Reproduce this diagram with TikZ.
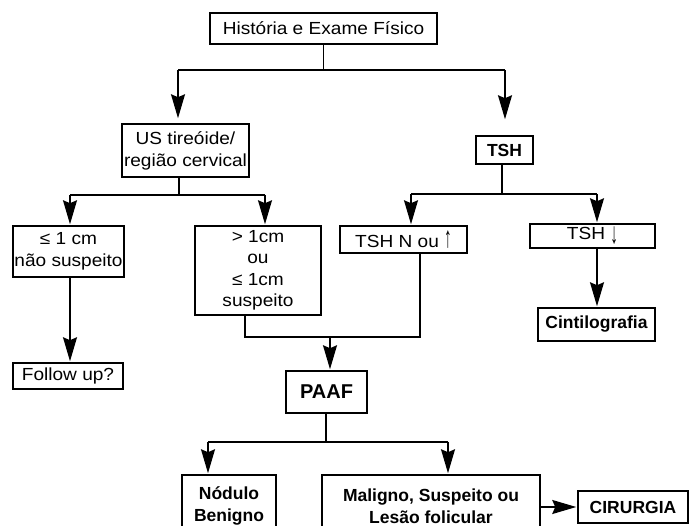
\documentclass[tikz,border=0pt]{standalone}
\usepackage{fontspec}
\setmainfont{Liberation Sans}
\newfontfamily\regfam{Liberation Sans}[FakeStretch=1.09]
\usetikzlibrary{arrows.meta}
\newcommand{\regf}{\regfam\fontsize{17.5}{22}\selectfont}
\newcommand{\boldf}{\fontsize{17.5}{22}\selectfont\bfseries}
\tikzset{
  box/.style={draw, line width=1.5pt, inner sep=0pt, align=center, font=\regf},
  bbox/.style={draw, line width=1.5pt, inner sep=0pt, align=center, font=\boldf},
  ln/.style={line width=1.5pt},
  arr/.style={line width=1.5pt, -{Stealth[length=24pt,width=14pt,inset=3pt]}, shorten >=1pt}
}
\begin{document}
\begin{tikzpicture}[x=1pt,y=-1pt]
\path[use as bounding box, clip] (0,0) rectangle (689,526);
\fill[white] (0,0) rectangle (689,526);
% nodes
\node[box, minimum width=227pt, minimum height=31pt] (hist) at (323.5,28.5) {História e Exame Físico};
\node[box, minimum width=127pt, minimum height=53pt] (us) at (185.5,150.5) {US tireóide/\\região cervical};
\node[bbox, minimum width=57pt, minimum height=28pt] (tsh) at (504.5,150) {TSH};
\node[box, minimum width=111pt, minimum height=51pt] (le1) at (68.5,251.5) {≤ 1 cm\\não suspeito};
\node[box, minimum width=126pt, minimum height=89pt, font=\regfam\fontsize{17.5}{21.5}\selectfont] (gt1) at (258,270.5) {> 1cm\\ou\\≤ 1cm\\suspeito};
\node[box, minimum width=127pt, minimum height=27pt] (tshn) at (403.5,239.5) {TSH N ou \scalebox{0.8}[1.7]{↑}};
\node[box, minimum width=125pt, minimum height=24pt] (tshd) at (592.5,236) {TSH \raisebox{-4pt}{\scalebox{0.8}[1.7]{↓}}};
\node[bbox, minimum width=117pt, minimum height=33pt] (cint) at (596.5,324.5) {Cintilografia};
\node[box, minimum width=110pt, minimum height=26pt] (follow) at (68,376) {Follow up?};
\node[bbox, minimum width=81pt, minimum height=42pt, font=\fontsize{20}{24}\selectfont\bfseries] (paaf) at (326.5,392) {PAAF};
\node[bbox, minimum width=94pt, minimum height=62pt] (nod) at (229,506) {Nódulo\\Benigno};
\node[bbox, minimum width=218pt, minimum height=62pt] (mal) at (431,506) {Maligno, Suspeito ou\\Lesão folicular};
\node[bbox, minimum width=110pt, minimum height=32pt] (cir) at (633,507) {CIRURGIA};
% junctions
\coordinate (j1) at (323.5,70);
\coordinate (j1l) at (178,70);
\coordinate (j1r) at (505,70);
\coordinate (j2) at (179,195);
\coordinate (j2l) at (70,195);
\coordinate (j2r) at (265,195);
\coordinate (j3) at (502,194);
\coordinate (j3l) at (411,194);
\coordinate (j3r) at (597,194);
\coordinate (j4l) at (245,337);
\coordinate (j4r) at (420,337);
\coordinate (j4) at (330,337);
\coordinate (j5) at (326,442);
\coordinate (j5l) at (208,442);
\coordinate (j5r) at (448,442);
% connectors
\draw[ln] (hist.south) -- (j1);
\draw[ln] (j1l) -- (j1r);
\draw[arr, shorten >=5pt] (j1l) -- (j1l |- us.north);
\draw[arr, shorten >=16pt] (j1r) -- (j1r |- tsh.north);
\draw[ln] (j2 |- us.south) -- (j2);
\draw[ln] (j2l) -- (j2r);
\draw[arr] (j2l) -- (j2l |- le1.north);
\draw[arr] (j2r) -- (j2r |- gt1.north);
\draw[ln] (j3 |- tsh.south) -- (j3);
\draw[ln] (j3l) -- (j3r);
\draw[arr] (j3l) -- (j3l |- tshn.north);
\draw[arr] (j3r) -- (j3r |- tshd.north);
\draw[arr] (j3r |- tshd.south) -- (j3r |- cint.north);
\draw[arr] (j2l |- le1.south) -- (j2l |- follow.north);
\draw[ln] (j4l |- gt1.south) -- (j4l) -- (j4r) -- (j4r |- tshn.south);
\draw[arr] (j4) -- (j4 |- paaf.north);
\draw[ln] (j5 |- paaf.south) -- (j5);
\draw[ln] (j5l) -- (j5r);
\draw[arr] (j5l) -- (j5l |- nod.north);
\draw[arr] (j5r) -- (j5r |- mal.north);
\draw[arr] (mal.east |- cir.west) -- (cir.west);
\end{tikzpicture}
\end{document}
